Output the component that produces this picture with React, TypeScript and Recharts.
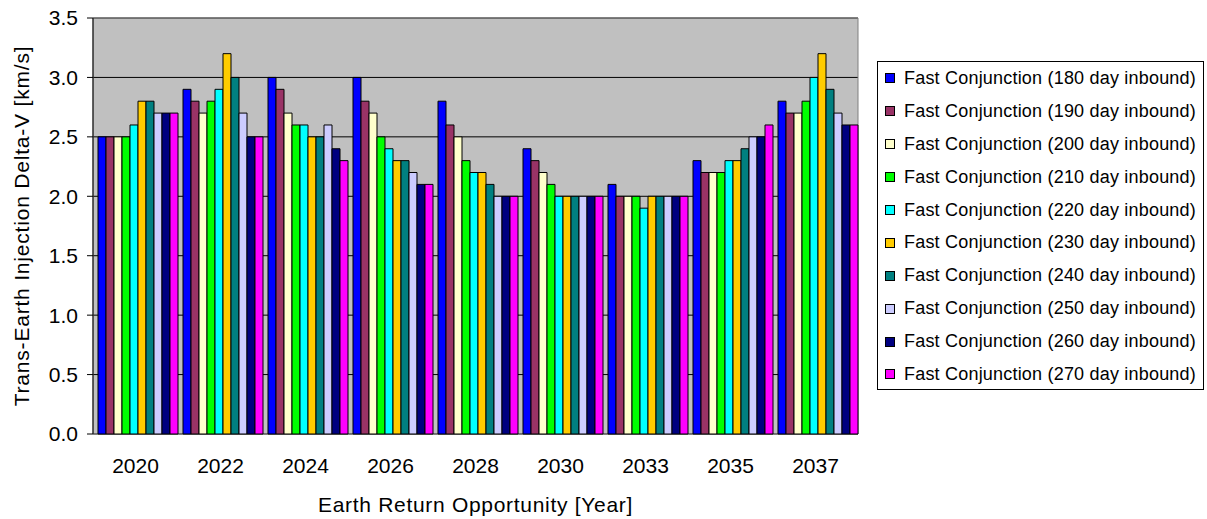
import React from "react";
import {
  BarChart,
  Bar,
  XAxis,
  YAxis,
  CartesianGrid,
  ReferenceArea,
} from "recharts";

const years = ["2020", "2022", "2024", "2026", "2028", "2030", "2033", "2035", "2037"];

const d180 = [2.5, 2.9, 3.0, 3.0, 2.8, 2.4, 2.1, 2.3, 2.8];
const d190 = [2.5, 2.8, 2.9, 2.8, 2.6, 2.3, 2.0, 2.2, 2.7];
const d200 = [2.5, 2.7, 2.7, 2.7, 2.5, 2.2, 2.0, 2.2, 2.7];
const d210 = [2.5, 2.8, 2.6, 2.5, 2.3, 2.1, 2.0, 2.2, 2.8];
const d220 = [2.6, 2.9, 2.6, 2.4, 2.2, 2.0, 1.9, 2.3, 3.0];
const d230 = [2.8, 3.2, 2.5, 2.3, 2.2, 2.0, 2.0, 2.3, 3.2];
const d240 = [2.8, 3.0, 2.5, 2.3, 2.1, 2.0, 2.0, 2.4, 2.9];
const d250 = [2.7, 2.7, 2.6, 2.2, 2.0, 2.0, 2.0, 2.5, 2.7];
const d260 = [2.7, 2.5, 2.4, 2.1, 2.0, 2.0, 2.0, 2.5, 2.6];
const d270 = [2.7, 2.5, 2.3, 2.1, 2.0, 2.0, 2.0, 2.6, 2.6];

const yTicks = [0, 0.5, 1.0, 1.5, 2.0, 2.5, 3.0, 3.5];
const boundaryTicks = [0, 1, 2, 3, 4, 5, 6, 7, 8, 9];

const series = [
  { key: "d180", name: "Fast Conjunction (180 day inbound)", color: "#0000FF", values: d180 },
  { key: "d190", name: "Fast Conjunction (190 day inbound)", color: "#993366", values: d190 },
  { key: "d200", name: "Fast Conjunction (200 day inbound)", color: "#FFFFCC", values: d200 },
  { key: "d210", name: "Fast Conjunction (210 day inbound)", color: "#00FF00", values: d210 },
  { key: "d220", name: "Fast Conjunction (220 day inbound)", color: "#00FFFF", values: d220 },
  { key: "d230", name: "Fast Conjunction (230 day inbound)", color: "#FFCC00", values: d230 },
  { key: "d240", name: "Fast Conjunction (240 day inbound)", color: "#008080", values: d240 },
  { key: "d250", name: "Fast Conjunction (250 day inbound)", color: "#CCCCFF", values: d250 },
  { key: "d260", name: "Fast Conjunction (260 day inbound)", color: "#000080", values: d260 },
  { key: "d270", name: "Fast Conjunction (270 day inbound)", color: "#FF00FF", values: d270 },
];

const data = years.map((year, i) => {
  const row: Record<string, string | number> = { year };
  series.forEach((s) => {
    row[s.key] = s.values[i];
  });
  return row;
});

const FONT = '"Liberation Sans", Arial, sans-serif';

// legend box drawn beside the plot, like the Excel original
const ChartLegend = () => (
  <div
    style={{
      position: "absolute",
      left: 877,
      top: 61,
      boxSizing: "border-box",
      width: 327,
      height: 329,
      border: "1px solid #000",
      background: "#fff",
      fontFamily: FONT,
    }}
  >
    {series.map((s) => (
      <div
        key={s.key}
        style={{ display: "flex", alignItems: "center", height: 32.9, paddingLeft: 7 }}
      >
        <div
          style={{
            width: 8,
            height: 8,
            background: s.color,
            border: "1px solid #000",
            marginRight: 9,
          }}
        />
        <span style={{ fontSize: 18, letterSpacing: 0.2, color: "#000", whiteSpace: "nowrap" }}>
          {s.name}
        </span>
      </div>
    ))}
  </div>
);

const YTitle = ({ viewBox }: any) => {
  const cy = viewBox.y + viewBox.height / 2;
  return (
    <text
      x={21}
      y={cy}
      transform={`rotate(-90, 21, ${cy})`}
      textAnchor="middle"
      dominantBaseline="central"
      fontSize={21}
      letterSpacing={0.8}
      fontFamily={FONT}
      fill="#000"
    >
      Trans-Earth Injection Delta-V [km/s]
    </text>
  );
};

export default function App() {
  return (
    <div style={{ position: "absolute", left: 0, top: 0, width: 1207, height: 519, background: "#fff" }}>
      <BarChart
        width={1207}
        height={519}
        data={data}
        margin={{ top: 18, right: 349, left: 0, bottom: 0 }}
        barCategoryGap={5}
        barGap={0}
        style={{ fontFamily: FONT }}
      >
        <CartesianGrid vertical={false} stroke="#000" fill="#C0C0C0" fillOpacity={1} />
        <XAxis
          xAxisId="b"
          type="number"
          domain={[0, 9]}
          ticks={boundaryTicks}
          height={0}
          tickSize={6}
          tickFormatter={() => ""}
          axisLine={{ stroke: "#000" }}
          tickLine={{ stroke: "#000" }}
          allowDataOverflow
        />
        <XAxis
          xAxisId="cat"
          dataKey="year"
          height={85}
          tickLine={false}
          axisLine={false}
          tickSize={0}
          tickMargin={24}
          tick={{ fill: "#000", fontSize: 21, fontFamily: FONT }}
          label={{
            value: "Earth Return Opportunity [Year]",
            position: "insideBottom",
            offset: 7,
            fill: "#000",
            fontSize: 21,
            letterSpacing: 0.7,
            fontFamily: FONT,
          }}
        />
        <YAxis
          domain={[0, 3.5]}
          ticks={yTicks}
          width={93}
          tickSize={6}
          tickMargin={9}
          tickFormatter={(v: number) => v.toFixed(1)}
          tick={{ fill: "#000", fontSize: 21, fontFamily: FONT }}
          axisLine={{ stroke: "#000" }}
          tickLine={{ stroke: "#000" }}
          label={<YTitle />}
        />
        <ReferenceArea
          xAxisId="cat"
          y1={0}
          y2={3.5}
          fill="none"
          stroke="#808080"
          ifOverflow="visible"
        />
        {series.map((s) => (
          <Bar
            key={s.key}
            xAxisId="cat"
            dataKey={s.key}
            name={s.name}
            fill={s.color}
            stroke="#000"
            strokeWidth={1}
            isAnimationActive={false}
          />
        ))}
      </BarChart>
      <ChartLegend />
    </div>
  );
}
